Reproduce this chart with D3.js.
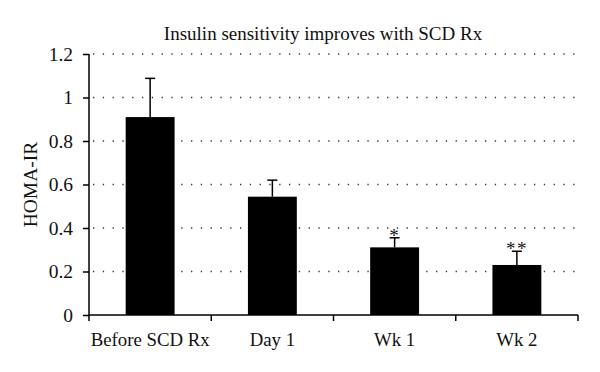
<!DOCTYPE html>
<html><head><meta charset="utf-8">
<script src="https://cdn.jsdelivr.net/npm/d3@7"></script>
<style>body{margin:0;background:#fff}svg{display:block}text{font-family:"Liberation Serif","DejaVu Serif",serif;fill:#111}</style>
</head><body><svg id="c" width="600" height="372"></svg>
<script>
const categories = ["Before SCD Rx", "Day 1", "Wk 1", "Wk 2"];
const means = [0.91, 0.544, 0.311, 0.23];
const errors = [0.178, 0.076, 0.044, 0.063];
const marks = ["", "", "*", "**"];
const yTicks = [0, 0.2, 0.4, 0.6, 0.8, 1, 1.2];
const title = "Insulin sensitivity improves with SCD Rx";
const yLabel = "HOMA-IR";

const svg = d3.select("#c");
const m = {l: 89, r: 22, t: 54, b: 57};
const W = 600, H = 372;
const x = d3.scaleBand().domain(categories).range([m.l, W - m.r]).paddingInner(0.6).paddingOuter(0.3);
const y = d3.scaleLinear().domain([0, 1.2]).range([H - m.b, m.t]);

// grid
svg.append("g").selectAll("line").data(yTicks.filter(d => d > 0)).join("line")
  .attr("x1", m.l + 4).attr("x2", W - m.r - 2)
  .attr("y1", d => y(d)).attr("y2", d => y(d))
  .attr("stroke", "#333").attr("stroke-width", 1.3).attr("stroke-dasharray", "1.3,8.5");

// bars
svg.append("g").selectAll("rect").data(categories).join("rect")
  .attr("x", d => x(d)).attr("width", x.bandwidth())
  .attr("y", (d, i) => y(means[i])).attr("height", (d, i) => y(0) - y(means[i]))
  .attr("fill", "#000");

// error bars
const eg = svg.append("g").attr("stroke", "#000").attr("stroke-width", 1.5);
categories.forEach((c, i) => {
  const cx = x(c) + x.bandwidth() / 2;
  eg.append("line").attr("x1", cx).attr("x2", cx).attr("y1", y(means[i])).attr("y2", y(means[i] + errors[i]));
  eg.append("line").attr("x1", cx - 5).attr("x2", cx + 5).attr("y1", y(means[i] + errors[i])).attr("y2", y(means[i] + errors[i]));
});

// significance marks
svg.append("g").selectAll("text").data(categories).join("text")
  .attr("x", d => x(d) + x.bandwidth() / 2)
  .attr("y", (d, i) => y(means[i] + errors[i]) + 4)
  .attr("text-anchor", "middle").attr("font-size", 19).attr("letter-spacing", 1.5)
  .text((d, i) => marks[i]);

// y axis
const ya = svg.append("g").attr("transform", `translate(${m.l},0)`)
  .call(d3.axisLeft(y).tickValues(yTicks).tickSize(6).tickPadding(10).tickFormat(d => d3.format("")(+d.toFixed(1))));
ya.select(".domain").attr("stroke", "#000").attr("stroke-width", 1.5).attr("d", `M0,${y(1.2)}V${y(0)}`);
ya.selectAll(".tick line").attr("stroke", "#000").attr("stroke-width", 1.5);
ya.selectAll(".tick text").attr("font-size", 19.5).attr("font-family", "Liberation Serif, serif").attr("fill", "#111");

// x axis
const xa = svg.append("g").attr("transform", `translate(0,${y(0)})`);
xa.append("line").attr("x1", m.l).attr("x2", W - m.r).attr("stroke", "#000").attr("stroke-width", 1.5);
const bounds = d3.range(categories.length + 1).map(i => m.l + i * (W - m.r - m.l) / categories.length);
xa.selectAll(".xt").data(bounds).join("line").attr("class", "xt")
  .attr("x1", d => d).attr("x2", d => d).attr("y1", 0).attr("y2", 6)
  .attr("stroke", "#000").attr("stroke-width", 1.5);
xa.selectAll(".xl").data(categories).join("text").attr("class", "xl")
  .attr("x", d => x(d) + x.bandwidth() / 2).attr("y", 31)
  .attr("text-anchor", "middle").attr("font-size", 18.8).text(d => d);

// title
svg.append("text").attr("x", 323).attr("y", 40).attr("text-anchor", "middle").attr("font-size", 19).text(title);

// y label
svg.append("text").attr("transform", `translate(37,${(y(0) + y(1.2)) / 2}) rotate(-90)`)
  .attr("text-anchor", "middle").attr("font-size", 19.5).text(yLabel);
</script></body></html>
